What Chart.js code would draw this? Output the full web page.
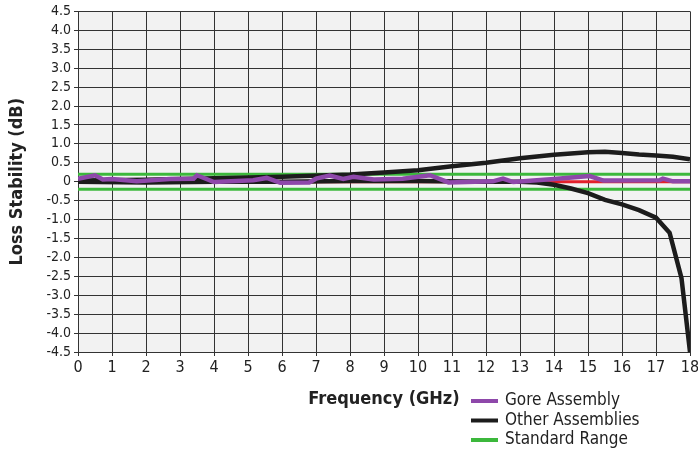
<!DOCTYPE html>
<html>
<head>
<meta charset="utf-8">
<script src="https://cdn.jsdelivr.net/npm/chart.js@4.4.1/dist/chart.umd.min.js"></script>
<style>
  html, body { margin: 0; padding: 0; background: #fff; }
  #wrap { width: 698px; height: 453px; }
</style>
</head>
<body>
<div id="wrap"><canvas id="chart" width="698" height="453"></canvas></div>
<script>
// Frequency (GHz) / loss stability (dB)
const goreFreq = [0, 0.5, 0.73, 1.0, 1.73, 2.7, 3.4, 3.5, 4.0, 5.15, 5.55, 5.95, 6.8, 7.0, 7.4, 7.8, 8.1, 8.7, 9.55, 10.35, 10.9, 12.2, 12.5, 12.8, 14.0, 15.05, 15.45, 17.1, 17.2, 17.5, 18];
const goreLoss = [0.08, 0.17, 0.06, 0.07, 0.01, 0.07, 0.08, 0.17, -0.01, 0.04, 0.1, -0.03, -0.02, 0.08, 0.16, 0.07, 0.13, 0.06, 0.08, 0.17, -0.02, 0.01, 0.08, -0.01, 0.07, 0.15, 0.03, 0.04, 0.08, 0.01, 0.01];

const otherFreq = [0, 2, 4, 6, 8, 9, 10, 11, 12, 13, 14, 15, 15.5, 16, 16.5, 17, 17.5, 18];
const otherLoss = [0.03, 0.05, 0.09, 0.13, 0.19, 0.24, 0.3, 0.41, 0.5, 0.62, 0.71, 0.78, 0.79, 0.76, 0.72, 0.69, 0.66, 0.59];

const otherLowFreq = [0, 2, 4, 6, 8, 10, 12, 13, 13.5, 14, 14.5, 15, 15.5, 16, 16.5, 17, 17.4, 17.75, 18];
const otherLowLoss = [0, -0.02, 0, 0, 0.02, 0.02, 0, 0, -0.02, -0.08, -0.18, -0.3, -0.48, -0.6, -0.75, -0.95, -1.35, -2.55, -4.5];

const rangeFreq = [0, 18];
const rangeUpper = [0.2, 0.2];
const rangeLower = [-0.2, -0.2];
const zeroLoss = [0, 0];

const xTicks = [0, 1, 2, 3, 4, 5, 6, 7, 8, 9, 10, 11, 12, 13, 14, 15, 16, 17, 18];
const yTicks = [-4.5, -4, -3.5, -3, -2.5, -2, -1.5, -1, -0.5, 0, 0.5, 1, 1.5, 2, 2.5, 3, 3.5, 4, 4.5];

const FONT = "'Liberation Sans Narrow', 'DejaVu Sans Condensed', 'Open Sans', sans-serif";

function pts(xs, ys) {
  return xs.map((x, i) => ({ x: x, y: ys[i] }));
}

// fill the plot area grey
const plotBg = {
  id: "plotBg",
  beforeDraw(chart) {
    const { ctx, chartArea } = chart;
    ctx.save();
    ctx.fillStyle = "#f2f2f2";
    ctx.fillRect(chartArea.left, chartArea.top, chartArea.width, chartArea.height);
    ctx.restore();
  },
};

// legend under the plot, on the right
const sideLegend = {
  id: "sideLegend",
  afterDraw(chart) {
    const ctx = chart.ctx;
    const items = chart.data.datasets.filter((d) => d.inLegend);
    items.sort((a, b) => a.legendOrder - b.legendOrder);
    ctx.save();
    ctx.font = "17px " + FONT;
    ctx.textBaseline = "middle";
    items.forEach((d, i) => {
      const y = 401 + i * 19.5;
      ctx.strokeStyle = d.borderColor;
      ctx.lineWidth = 4;
      ctx.beginPath();
      ctx.moveTo(471, y);
      ctx.lineTo(498, y);
      ctx.stroke();
      ctx.fillStyle = "#222";
      ctx.fillText(d.label, 505, y);
    });
    ctx.restore();
  },
};

const ctx = document.getElementById("chart").getContext("2d");
const chart = new Chart(ctx, {
  type: "line",
  data: {
    datasets: [
      { label: "Gore Assembly", data: pts(goreFreq, goreLoss), borderColor: "#8e48aa", borderWidth: 4.5, inLegend: true, legendOrder: 0, order: 0 },
      { label: "Other Assemblies", data: pts(otherFreq, otherLoss), borderColor: "#1c1c1c", borderWidth: 4.5, inLegend: true, legendOrder: 1, order: 1 },
      { label: "Other Assemblies (2)", data: pts(otherLowFreq, otherLowLoss), borderColor: "#1c1c1c", borderWidth: 4.5, order: 1 },
      { label: "Zero", data: pts(rangeFreq, zeroLoss), borderColor: "#e3202b", borderWidth: 3, order: 2 },
      { label: "Standard Range", data: pts(rangeFreq, rangeUpper), borderColor: "#3cb83c", borderWidth: 3, inLegend: true, legendOrder: 2, order: 3 },
      { label: "Standard Range (low)", data: pts(rangeFreq, rangeLower), borderColor: "#3cb83c", borderWidth: 3, order: 3 },
    ],
  },
  options: {
    responsive: false,
    animation: false,
    layout: { padding: { top: 11, right: 0, left: 0, bottom: 0 } },
    elements: { point: { radius: 0 }, line: { tension: 0, borderCapStyle: "butt" } },
    plugins: { legend: { display: false }, tooltip: { enabled: false } },
    scales: {
      x: {
        type: "linear",
        min: 0,
        max: 18,
        afterBuildTicks: (s) => { s.ticks = xTicks.map((v) => ({ value: v })); },
        afterFit: (s) => { s.height = 101; s.paddingRight = 8; s.paddingLeft = 0; },
        grid: { color: "#333", lineWidth: 1, tickLength: 4 },
        border: { color: "#333" },
        ticks: { color: "#222", font: { family: FONT, size: 16 }, padding: 2, maxRotation: 0, autoSkip: false },
        title: { display: true, text: "Frequency (GHz)", color: "#222", font: { family: FONT, size: 18, weight: "bold" }, padding: { top: 0, bottom: 43 } },
      },
      y: {
        min: -4.5,
        max: 4.5,
        afterBuildTicks: (s) => { s.ticks = yTicks.map((v) => ({ value: v })); },
        afterFit: (s) => { s.width = 78; },
        grid: { color: "#333", lineWidth: 1, tickLength: 4 },
        border: { color: "#333" },
        ticks: {
          color: "#222",
          font: { family: FONT, size: 14 },
          padding: 3,
          autoSkip: false,
          callback: (v) => (v === 0 ? "0" : v.toFixed(1)),
        },
        title: { display: true, text: "Loss Stability (dB)", color: "#222", font: { family: FONT, size: 18, weight: "bold" }, padding: { top: 7, bottom: 0 } },
      },
    },
  },
  plugins: [plotBg, sideLegend],
});
</script>
</body>
</html>
